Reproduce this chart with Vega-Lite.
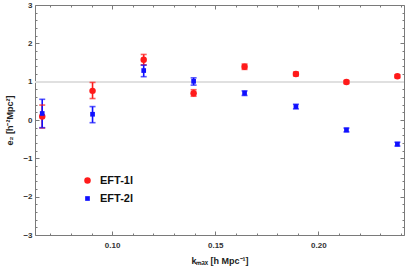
{
  "$schema": "https://vega.github.io/schema/vega-lite/v6.json",
  "autosize": "none",
  "width": 369,
  "height": 230,
  "padding": {"left": 35, "top": 5, "right": 3, "bottom": 34},
  "background": "white",
  "config": {
    "view": {"stroke": "#7a7a7a", "strokeWidth": 1},
    "axis": {"labelFont": "Liberation Sans", "labelFontWeight": "bold", "labelFontSize": 8, "labelColor": "#333333", "titleFont": "Liberation Sans", "titleFontWeight": "bold", "titleFontSize": 9, "titleColor": "#222222", "tickColor": "#7a7a7a", "domain": false, "grid": false, "labelOverlap": false}
  },
  "data": {"values": [
    {"k": 0.0661, "val": 0.09, "lo": -0.21, "hi": 0.39, "model": "EFT-1l"},
    {"k": 0.0905, "val": 0.76, "lo": 0.56, "hi": 0.98, "model": "EFT-1l"},
    {"k": 0.1153, "val": 1.57, "lo": 1.44, "hi": 1.71, "model": "EFT-1l"},
    {"k": 0.1395, "val": 0.70, "lo": 0.62, "hi": 0.79, "model": "EFT-1l"},
    {"k": 0.1642, "val": 1.39, "lo": 1.32, "hi": 1.46, "model": "EFT-1l"},
    {"k": 0.1891, "val": 1.20, "lo": 1.15, "hi": 1.25, "model": "EFT-1l"},
    {"k": 0.2136, "val": 0.99, "lo": 0.95, "hi": 1.03, "model": "EFT-1l"},
    {"k": 0.2383, "val": 1.14, "lo": 1.10, "hi": 1.18, "model": "EFT-1l"},
    {"k": 0.0661, "val": 0.17, "lo": -0.20, "hi": 0.54, "model": "EFT-2l"},
    {"k": 0.0905, "val": 0.15, "lo": -0.07, "hi": 0.35, "model": "EFT-2l"},
    {"k": 0.1153, "val": 1.29, "lo": 1.13, "hi": 1.43, "model": "EFT-2l"},
    {"k": 0.1395, "val": 1.01, "lo": 0.91, "hi": 1.10, "model": "EFT-2l"},
    {"k": 0.1642, "val": 0.70, "lo": 0.64, "hi": 0.76, "model": "EFT-2l"},
    {"k": 0.1891, "val": 0.35, "lo": 0.29, "hi": 0.41, "model": "EFT-2l"},
    {"k": 0.2136, "val": -0.26, "lo": -0.31, "hi": -0.21, "model": "EFT-2l"},
    {"k": 0.2383, "val": -0.63, "lo": -0.68, "hi": -0.58, "model": "EFT-2l"}
  ]},
  "layer": [
    {
      "mark": {"type": "rule", "color": "#e0e0e0", "strokeWidth": 1.2},
      "encoding": {
        "y": {"datum": 1, "type": "quantitative", "scale": {"domain": [-3, 3], "nice": false, "zero": false},
          "axis": {"orient": "right", "title": null, "labels": false,
            "values": [-3,-2.8,-2.6,-2.4,-2.2,-2,-1.8,-1.6,-1.4,-1.2,-1,-0.8,-0.6,-0.4,-0.2,0,0.2,0.4,0.6,0.8,1,1.2,1.4,1.6,1.8,2,2.2,2.4,2.6,2.8,3],
            "tickSize": {"condition": {"test": "abs(datum.value - round(datum.value)) < 0.001", "value": -4}, "value": -2}}}
      }
    },
    {
      "mark": {"type": "rule", "color": "#6e6e6e", "strokeWidth": 1},
      "encoding": {
        "y": {"datum": 0, "type": "quantitative", "axis": null},
        "x": {"datum": 0.1, "type": "quantitative", "scale": {"domain": [0.0626, 0.2415], "nice": false, "zero": false},
          "axis": {"orient": "top", "title": null, "labels": false,
            "values": [0.07,0.08,0.09,0.1,0.11,0.12,0.13,0.14,0.15,0.16,0.17,0.18,0.19,0.2,0.21,0.22,0.23,0.24],
            "tickSize": {"condition": {"test": "abs(datum.value*20 - round(datum.value*20)) < 0.001", "value": -4}, "value": -2}}}
      }
    },
    {
      "mark": {"type": "rule", "strokeWidth": 1.6},
      "encoding": {
        "x": {"field": "k", "type": "quantitative", "axis": null},
        "y": {"field": "lo", "type": "quantitative", "axis": null},
        "y2": {"field": "hi"},
        "color": {"field": "model", "type": "nominal", "scale": {"domain": ["EFT-1l", "EFT-2l"], "range": ["#ff1a1a", "#1010ff"]}}
      }
    },
    {
      "mark": {"type": "tick", "orient": "horizontal", "size": 6, "thickness": 1.6},
      "encoding": {
        "x": {"field": "k", "type": "quantitative", "axis": null},
        "y": {"field": "lo", "type": "quantitative", "axis": null},
        "color": {"field": "model", "type": "nominal"}
      }
    },
    {
      "mark": {"type": "tick", "orient": "horizontal", "size": 6, "thickness": 1.6},
      "encoding": {
        "x": {"field": "k", "type": "quantitative", "axis": null},
        "y": {"field": "hi", "type": "quantitative", "axis": null},
        "color": {"field": "model", "type": "nominal"}
      }
    },
    {
      "mark": {"type": "point", "filled": true, "opacity": 1},
      "encoding": {
        "x": {"field": "k", "type": "quantitative",
          "axis": {"orient": "bottom", "title": "kₘₐₓ [h Mpc⁻¹]", "titlePadding": 5,
            "values": [0.07,0.08,0.09,0.1,0.11,0.12,0.13,0.14,0.15,0.16,0.17,0.18,0.19,0.2,0.21,0.22,0.23,0.24],
            "labelExpr": "abs(datum.value*20 - round(datum.value*20)) < 0.001 ? format(datum.value, '.2f') : ''",
            "labelPadding": 10,
            "tickSize": {"condition": {"test": "abs(datum.value*20 - round(datum.value*20)) < 0.001", "value": -4}, "value": -2}}},
        "y": {"field": "val", "type": "quantitative",
          "axis": {"orient": "left", "title": "e₂ [h⁻²Mpc²]", "titlePadding": 8,
            "values": [-3,-2.8,-2.6,-2.4,-2.2,-2,-1.8,-1.6,-1.4,-1.2,-1,-0.8,-0.6,-0.4,-0.2,0,0.2,0.4,0.6,0.8,1,1.2,1.4,1.6,1.8,2,2.2,2.4,2.6,2.8,3],
            "labelExpr": "abs(datum.value - round(datum.value)) < 0.001 ? format(datum.value, 'd') : ''",
            "labelPadding": 7,
            "tickSize": {"condition": {"test": "abs(datum.value - round(datum.value)) < 0.001", "value": -4}, "value": -2}}},
        "color": {"field": "model", "type": "nominal", "title": null,
          "legend": {"orient": "none", "legendX": 47, "legendY": 170, "padding": 0, "rowPadding": 6, "symbolOpacity": 1, "symbolStrokeWidth": 0, "labelFont": "Liberation Sans", "labelFontWeight": "bold", "labelFontSize": 11, "labelColor": "#111111", "labelOffset": 7,
            "encode": {"symbols": {"update": {"opacity": {"value": 1}, "fillOpacity": {"value": 1}}}}}},
        "shape": {"field": "model", "type": "nominal", "title": null, "scale": {"domain": ["EFT-1l", "EFT-2l"], "range": ["circle", "square"]}},
        "size": {"field": "model", "type": "nominal", "title": null, "scale": {"domain": ["EFT-1l", "EFT-2l"], "range": [42, 22]}}
      }
    }
  ],
  "resolve": {"axis": {"x": "independent", "y": "independent"}}
}
